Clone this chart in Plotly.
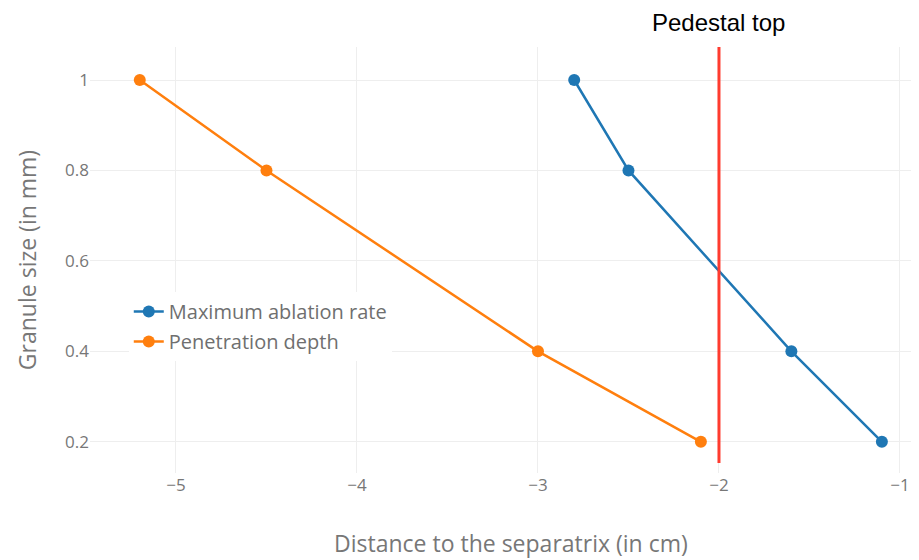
import plotly.graph_objects as go

# Data
ablation_x = [-2.8, -2.5, -1.6, -1.1]
ablation_y = [1.0, 0.8, 0.4, 0.2]
penetration_x = [-5.2, -4.5, -3.0, -2.1]
penetration_y = [1.0, 0.8, 0.4, 0.2]
pedestal_x = -2.0
pedestal_label = "Pedestal top"
x_title = "Distance to the separatrix (in cm)"
y_title = "Granule size (in mm)"
x_ticks = [-5, -4, -3, -2, -1]
y_ticks = [0.2, 0.4, 0.6, 0.8, 1.0]
y_tick_text = ["0.2", "0.4", "0.6", "0.8", "1"]

fig = go.Figure()
fig.add_trace(go.Scatter(
    x=ablation_x, y=ablation_y, mode="lines+markers",
    name="Maximum ablation rate", legendgroup="a",
    line=dict(color="#1f77b4", width=2.5),
    marker=dict(color="#1f77b4", size=12),
))
fig.add_trace(go.Scatter(
    x=penetration_x, y=penetration_y, mode="lines+markers",
    name="Penetration depth", legendgroup="b",
    line=dict(color="#ff7f0e", width=2.5),
    marker=dict(color="#ff7f0e", size=12),
))

fig.add_shape(type="line", xref="x", yref="y",
              x0=pedestal_x, x1=pedestal_x, y0=0.153, y1=1.075,
              line=dict(color="#ff3b2f", width=3))

fig.add_annotation(x=pedestal_x, xref="x", y=1.0, yref="paper",
                   yanchor="middle", yshift=25, text=pedestal_label, showarrow=False,
                   borderpad=0,
                   font=dict(family="Liberation Sans, Arial", size=24, color="#000000"))

# x-axis title placed as annotation (centred where the reference shows it)
fig.add_annotation(x=0.51, xref="paper", y=0, yref="paper",
                   yanchor="middle", yshift=-70, text=x_title, showarrow=False,
                   font=dict(family="Open Sans", size=23, color="#777777"))

fig.update_layout(
    width=911, height=552,
    margin=dict(l=82, r=4, t=39, b=87),
    paper_bgcolor="white", plot_bgcolor="white",
    font=dict(family="Open Sans", color="#6f6f6f"),
    showlegend=True,
    legend=dict(x=0.047, y=0.425, xanchor="left", yanchor="top",
                traceorder="grouped", tracegroupgap=1,
                bgcolor="white", font=dict(size=20, color="#6f6f6f")),
    xaxis=dict(
        range=[-5.475, -0.917],
        tickvals=x_ticks, ticktext=[("\u2212" + str(abs(v))) for v in x_ticks],
        tickfont=dict(size=17, color="#777777"),
        showgrid=True, gridcolor="#eeeeee", zeroline=False, showline=False,
    ),
    yaxis=dict(
        range=[0.131, 1.073],
        tickvals=y_ticks, ticktext=y_tick_text,
        tickfont=dict(size=17, color="#777777"),
        showgrid=True, gridcolor="#eeeeee", zeroline=False, showline=False,
        title=dict(text=y_title,
                   font=dict(size=23, color="#777777"), standoff=22),
    ),
)

fig.write_html("out.html")
